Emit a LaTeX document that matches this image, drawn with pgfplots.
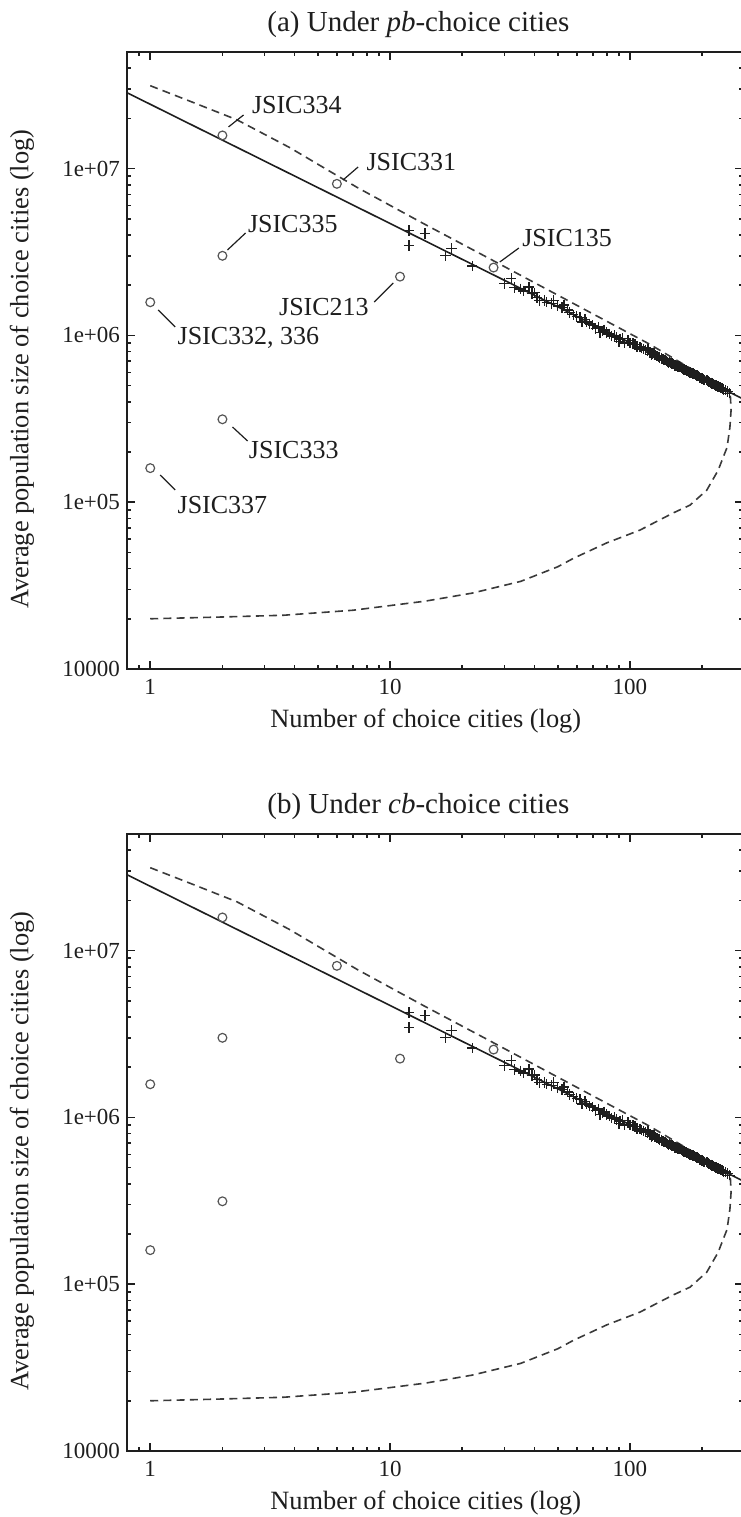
\documentclass[border=0pt]{standalone}
\usepackage{fontspec}
\setmainfont{Liberation Serif}
\usepackage{pgfplots}
\usepackage{pgfplotstable}
\pgfplotsset{compat=1.18}

\definecolor{ink}{HTML}{1E1E1E}
\definecolor{dashc}{HTML}{3A3A3A}
\definecolor{circc}{HTML}{555555}

\pgfplotstableread{
x y
12 4.25e6
12 3.46e6
14 4.08e6
17 3.0e6
18 3.32e6
22 2.6e6
30 2.05e6
32 2.19e6
33 1.94e6
35 1.9e6
36 1.85e6
38 1.95e6
39 1.78e6
40 1.8e6
41 1.69e6
42 1.62e6
44 1.62e6
45 1.58e6
47 1.55e6
48 1.62e6
50 1.5e6
52 1.47e6
53 1.52e6
55 1.42e6
56 1.37e6
58 1.33e6
60 1.3e6
62 1.28e6
63 1.2e6
65 1.25e6
66 1.2e6
68 1.17e6
70 1.15e6
72 1.1e6
74 1.12e6
75 1.04e6
77 1.06e6
78 1.08e6
80 1.04e6
82 1.02e6
84 9.9e5
86 1.0e6
88 9.7e5
90 9.2e5
91 9.5e5
93 9.6e5
95 9.0e5
98 9.3e5
100 9.0e5
103 8.95e5
105 8.8e5
107 8.6e5
110 8.5e5
112 8.4e5
114 8.3e5
116 8.15e5
118 8.1e5
119 8.3e5
121 7.9e5
123 7.7e5
124 7.8e5
126 7.85e5
127 7.6e5
129 7.55e5
130 7.5e5
132 7.45e5
133 7.35e5
135 7.3e5
136 7.2e5
138 7.15e5
140 7.1e5
142 7.05e5
143 6.95e5
145 6.85e5
146 6.9e5
148 6.85e5
150 6.8e5
152 6.75e5
153 6.6e5
155 6.6e5
156 6.55e5
158 6.5e5
160 6.5e5
162 6.45e5
164 6.35e5
166 6.3e5
168 6.25e5
170 6.2e5
172 6.15e5
174 6.1e5
176 6.05e5
178 6.0e5
180 5.95e5
183 5.9e5
185 5.85e5
188 5.8e5
190 5.75e5
193 5.7e5
195 5.6e5
198 5.55e5
200 5.5e5
203 5.45e5
205 5.4e5
208 5.38e5
210 5.35e5
213 5.3e5
215 5.25e5
218 5.2e5
220 5.15e5
223 5.1e5
225 5.05e5
228 5.02e5
230 5.0e5
233 4.95e5
235 4.9e5
238 4.88e5
240 4.85e5
243 4.8e5
245 4.75e5
250 4.7e5
255 4.6e5
260 4.5e5
}\plusdata

\pgfplotstableread{
x y
1 1.58e6
1 1.6e5
2 1.58e7
2 3.0e6
2 3.14e5
6 8.1e6
11 2.25e6
27 2.55e6
}\circdata

\pgfplotstableread{
x y
0.8 2.85e7
296 4.16e5
}\fitdata

\pgfplotstableread{
x y
1 3.14e7
1.5 2.5e7
2.3 1.96e7
3.8 1.34e7
7.3 7.7e6
13.7 4.7e6
25 2.97e6
45 1.89e6
85 1.16e6
120 8.9e5
170 6.62e5
220 5.32e5
262 4.45e5
}\upperdata

\pgfplotstableread{
x y
1 2.0e4
2 2.05e4
3.6 2.1e4
7 2.25e4
14 2.55e4
22 2.85e4
35 3.35e4
50 4.1e4
58 4.6e4
80 5.7e4
110 6.8e4
151 8.6e4
178 9.6e4
209 1.18e5
233 1.55e5
254 2.13e5
261 2.81e5
264 3.56e5
262 4.45e5
}\lowerdata

\newcommand{\annfont}{\fontsize{13}{15}\selectfont}

\begin{document}
\begin{tikzpicture}
\begin{axis}[
    at={(63.5pt,424pt)}, anchor=south west,
    xmode=log, ymode=log,
    scale only axis,
    width=308pt, height=308.5pt,
    xmin=0.8, xmax=296,
    ymin=1e4, ymax=5e7,
    axis line style={line width=1.3pt, ink},
    tick align=inside,
    major tick length=4pt,
    minor tick length=2pt,
    tick style={ink, line width=0.8pt},
    xtick={1,10,100}, xticklabels={1,10,100},
    minor xtick={0.9,2,3,4,5,6,7,8,9,20,30,40,50,60,70,80,90,200},
    ytick={1e4,1e5,1e6,1e7}, yticklabels={10000,1e+05,1e+06,1e+07},
    minor ytick={2e4,3e4,4e4,5e4,6e4,7e4,8e4,9e4,2e5,3e5,4e5,5e5,6e5,7e5,8e5,9e5,2e6,3e6,4e6,5e6,6e6,7e6,8e6,9e6,2e7,3e7,4e7},
    tick label style={font=\fontsize{11.5}{13}\selectfont, text=ink},
    xticklabel style={yshift=-1.5pt},
    xlabel={Number of choice cities (log)},
    ylabel={Average population size of choice cities (log)},
    label style={font=\fontsize{13.2}{15}\selectfont, text=ink},
    xlabel style={at={(axis description cs:0.485,0)}, anchor=center, yshift=-26pt},
    ylabel style={at={(axis description cs:0,0.486)}, anchor=center, yshift=52.5pt},
    title style={at={(axis description cs:0.473,1)}, anchor=center, yshift=7.5pt,
      font=\fontsize{14.5}{17}\selectfont, text=ink},
    title={(a) Under \textit{pb}-choice cities},
  ]
  \addplot[no marks, ink, line width=0.8pt] table[x=x,y=y] {\fitdata};
  \addplot[no marks, dashc, line width=0.8pt, dash pattern=on 4pt off 2.6pt] table[x=x,y=y] {\upperdata};
  \addplot[no marks, dashc, line width=0.8pt, dash pattern=on 4pt off 2.6pt] table[x=x,y=y] {\lowerdata};
  \addplot[only marks, mark=+, mark size=2.6pt, ink, mark options={line width=0.7pt}] table[x=x,y=y] {\plusdata};
  \addplot[only marks, mark=o, mark size=2.2pt, circc, mark options={line width=0.6pt}] table[x=x,y=y] {\circdata};
  \node[anchor=west, inner sep=0pt, text=ink, font=\annfont] at (rel axis cs:0.2023,0.9141) {JSIC334};
  \node[anchor=west, inner sep=0pt, text=ink, font=\annfont] at (rel axis cs:0.3883,0.8217) {JSIC331};
  \node[anchor=west, inner sep=0pt, text=ink, font=\annfont] at (rel axis cs:0.1958,0.7212) {JSIC335};
  \node[anchor=east, inner sep=0pt, text=ink, font=\annfont] at (rel axis cs:0.3931,0.5867) {JSIC213};
  \node[anchor=west, inner sep=0pt, text=ink, font=\annfont] at (rel axis cs:0.6411,0.6985) {JSIC135};
  \node[anchor=west, inner sep=0pt, text=ink, font=\annfont] at (rel axis cs:0.0816,0.5365) {JSIC332, 336};
  \node[anchor=west, inner sep=0pt, text=ink, font=\annfont] at (rel axis cs:0.1974,0.3549) {JSIC333};
  \node[anchor=west, inner sep=0pt, text=ink, font=\annfont] at (rel axis cs:0.0816,0.2658) {JSIC337};
  \draw[ink, line width=0.6pt] (rel axis cs:0.1648,0.8785) -- (rel axis cs:0.1892,0.8979);
  \draw[ink, line width=0.6pt] (rel axis cs:0.3507,0.7925) -- (rel axis cs:0.3752,0.8136);
  \draw[ink, line width=0.6pt] (rel axis cs:0.1631,0.6791) -- (rel axis cs:0.1925,0.7066);
  \draw[ink, line width=0.6pt] (rel axis cs:0.4013,0.5948) -- (rel axis cs:0.4323,0.6256);
  \draw[ink, line width=0.6pt] (rel axis cs:0.6052,0.6596) -- (rel axis cs:0.6362,0.6823);
  \draw[ink, line width=0.6pt] (rel axis cs:0.0506,0.5818) -- (rel axis cs:0.0783,0.5543);
  \draw[ink, line width=0.6pt] (rel axis cs:0.1713,0.3922) -- (rel axis cs:0.1958,0.3695);
  \draw[ink, line width=0.6pt] (rel axis cs:0.0538,0.3144) -- (rel axis cs:0.0783,0.2901);
\end{axis}

\begin{axis}[
    at={(63.5pt,33pt)}, anchor=south west,
    xmode=log, ymode=log,
    scale only axis,
    width=308pt, height=308.5pt,
    xmin=0.8, xmax=296,
    ymin=1e4, ymax=5e7,
    axis line style={line width=1.3pt, ink},
    tick align=inside,
    major tick length=4pt,
    minor tick length=2pt,
    tick style={ink, line width=0.8pt},
    xtick={1,10,100}, xticklabels={1,10,100},
    minor xtick={0.9,2,3,4,5,6,7,8,9,20,30,40,50,60,70,80,90,200},
    ytick={1e4,1e5,1e6,1e7}, yticklabels={10000,1e+05,1e+06,1e+07},
    minor ytick={2e4,3e4,4e4,5e4,6e4,7e4,8e4,9e4,2e5,3e5,4e5,5e5,6e5,7e5,8e5,9e5,2e6,3e6,4e6,5e6,6e6,7e6,8e6,9e6,2e7,3e7,4e7},
    tick label style={font=\fontsize{11.5}{13}\selectfont, text=ink},
    xticklabel style={yshift=-1.5pt},
    xlabel={Number of choice cities (log)},
    ylabel={Average population size of choice cities (log)},
    label style={font=\fontsize{13.2}{15}\selectfont, text=ink},
    xlabel style={at={(axis description cs:0.485,0)}, anchor=center, yshift=-26pt},
    ylabel style={at={(axis description cs:0,0.486)}, anchor=center, yshift=52.5pt},
    title style={at={(axis description cs:0.473,1)}, anchor=center, yshift=7.5pt,
      font=\fontsize{14.5}{17}\selectfont, text=ink},
    title={(b) Under \textit{cb}-choice cities},
  ]
  \addplot[no marks, ink, line width=0.8pt] table[x=x,y=y] {\fitdata};
  \addplot[no marks, dashc, line width=0.8pt, dash pattern=on 4pt off 2.6pt] table[x=x,y=y] {\upperdata};
  \addplot[no marks, dashc, line width=0.8pt, dash pattern=on 4pt off 2.6pt] table[x=x,y=y] {\lowerdata};
  \addplot[only marks, mark=+, mark size=2.6pt, ink, mark options={line width=0.7pt}] table[x=x,y=y] {\plusdata};
  \addplot[only marks, mark=o, mark size=2.2pt, circc, mark options={line width=0.6pt}] table[x=x,y=y] {\circdata};
\end{axis}

\pgfresetboundingbox
\path (0pt,0pt) rectangle (370pt,758.5pt);
\end{tikzpicture}
\end{document}
